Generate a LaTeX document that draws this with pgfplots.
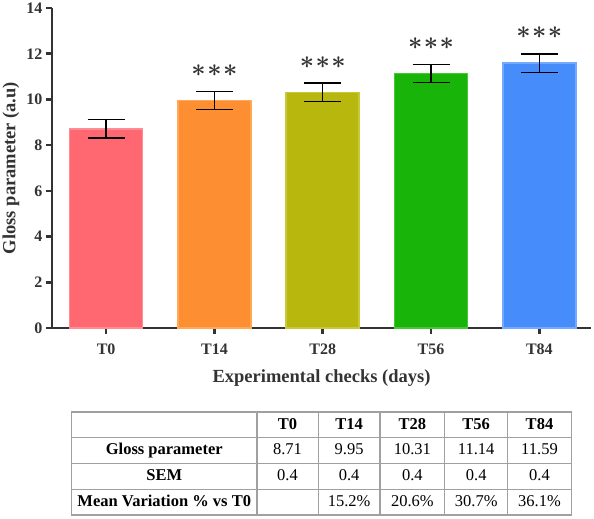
\documentclass[border=0pt]{standalone}
\usepackage{fontspec}
\setmainfont{Liberation Serif}
\usepackage{pgfplots}
\pgfplotsset{compat=1.18}
\usepackage{array}
\usepackage{colortbl}
\definecolor{axgray}{RGB}{51,51,51}
\definecolor{tabgray}{RGB}{160,160,160}
\definecolor{c0}{RGB}{255,104,112}
\definecolor{e0}{RGB}{255,140,148}
\definecolor{c1}{RGB}{253,143,50}
\definecolor{e1}{RGB}{255,168,85}
\definecolor{c2}{RGB}{183,183,14}
\definecolor{e2}{RGB}{200,200,60}
\definecolor{c3}{RGB}{25,180,10}
\definecolor{e3}{RGB}{70,200,55}
\definecolor{c4}{RGB}{70,140,250}
\definecolor{e4}{RGB}{115,170,255}
\newcolumntype{C}[1]{>{\centering\arraybackslash}p{#1}}
\newcommand{\st}{{\boldmath$\ast$}}
\begin{document}
\begin{tikzpicture}
\useasboundingbox (0pt,0pt) rectangle (594pt,519pt);
\begin{axis}[
  at={(52pt,191pt)}, anchor=south west,
  scale only axis, width=539pt, height=320pt,
  xmin=-0.5, xmax=4.477, ymin=0, ymax=14,
  axis x line=bottom, axis y line=left,
  axis line style={line width=2.5pt, axgray, -},
  every tick/.style={line width=2.5pt, axgray},
  tick align=outside, major tick length=6pt,
  xtick={0,1,2,3,4}, xticklabels={T0,T14,T28,T56,T84},
  ytick={0,2,4,6,8,10,12,14},
  /pgf/number format/assume math mode=true,
  ticklabel style={font=\fontsize{16}{18}\selectfont\bfseries, text=axgray},
  xticklabel style={yshift=-6pt},
  xlabel={Experimental checks (days)},
  ylabel={Gloss parameter (a.u)},
  label style={font=\fontsize{18.5}{20}\selectfont\bfseries, text=axgray},
  xlabel style={at={(axis description cs:0.5,0)}, anchor=center, yshift=-50pt},
  ylabel style={at={(axis description cs:-0.0761,0.5)}, anchor=center},
  clip=false,
  mybar/.style={ybar, bar width=73pt, bar shift=0pt, line width=1.5pt,
    error bars/y dir=both, error bars/y explicit,
    error bars/error bar style={line width=1.4pt, black},
    error bars/error mark options={rotate=90, mark size=18.5pt, line width=1.4pt, black}},
]
\addplot[mybar, fill=c0, draw=e0] coordinates {(0,8.71) +- (0,0.4)};
\addplot[mybar, fill=c1, draw=e1] coordinates {(1,9.95) +- (0,0.4)};
\addplot[mybar, fill=c2, draw=e2] coordinates {(2,10.31) +- (0,0.4)};
\addplot[mybar, fill=c3, draw=e3] coordinates {(3,11.14) +- (0,0.4)};
\addplot[mybar, fill=c4, draw=e4] coordinates {(4,11.59) +- (0,0.4)};
\addplot[draw=none, mark=none, nodes near coords={\st\hspace{1.5pt}\st\hspace{1.5pt}\st},
  nodes near coords style={anchor=center, yshift=21pt, text=axgray,
  font=\fontsize{25}{25}\selectfont}]
  coordinates {(1,10.35) (2,10.71) (3,11.54) (4,11.99)};
\end{axis}
\node[inner sep=0pt] at (321.5pt,55.5pt) {%
\fontsize{16.5}{18}\selectfont
\setlength{\tabcolsep}{0pt}%
\setlength{\arrayrulewidth}{1.3pt}%
\arrayrulecolor{tabgray}%
\def\rs{\rule[-8pt]{0pt}{24.5pt}}%
\begin{tabular}{|C{184pt}|C{60pt}|C{60.5pt}|C{63.5pt}|C{61.5pt}|C{62.5pt}|}
\hline
\rs & \textbf{T0} & \textbf{T14} & \textbf{T28} & \textbf{T56} & \textbf{T84}\\ \hline
\rs\textbf{Gloss parameter} & 8.71 & 9.95 & 10.31 & 11.14 & 11.59\\ \hline
\rs\textbf{SEM} & 0.4 & 0.4 & 0.4 & 0.4 & 0.4\\ \hline
\rs\textbf{Mean Variation \% vs T0} & & 15.2\% & 20.6\% & 30.7\% & 36.1\%\\ \hline
\end{tabular}};
\end{tikzpicture}
\end{document}
